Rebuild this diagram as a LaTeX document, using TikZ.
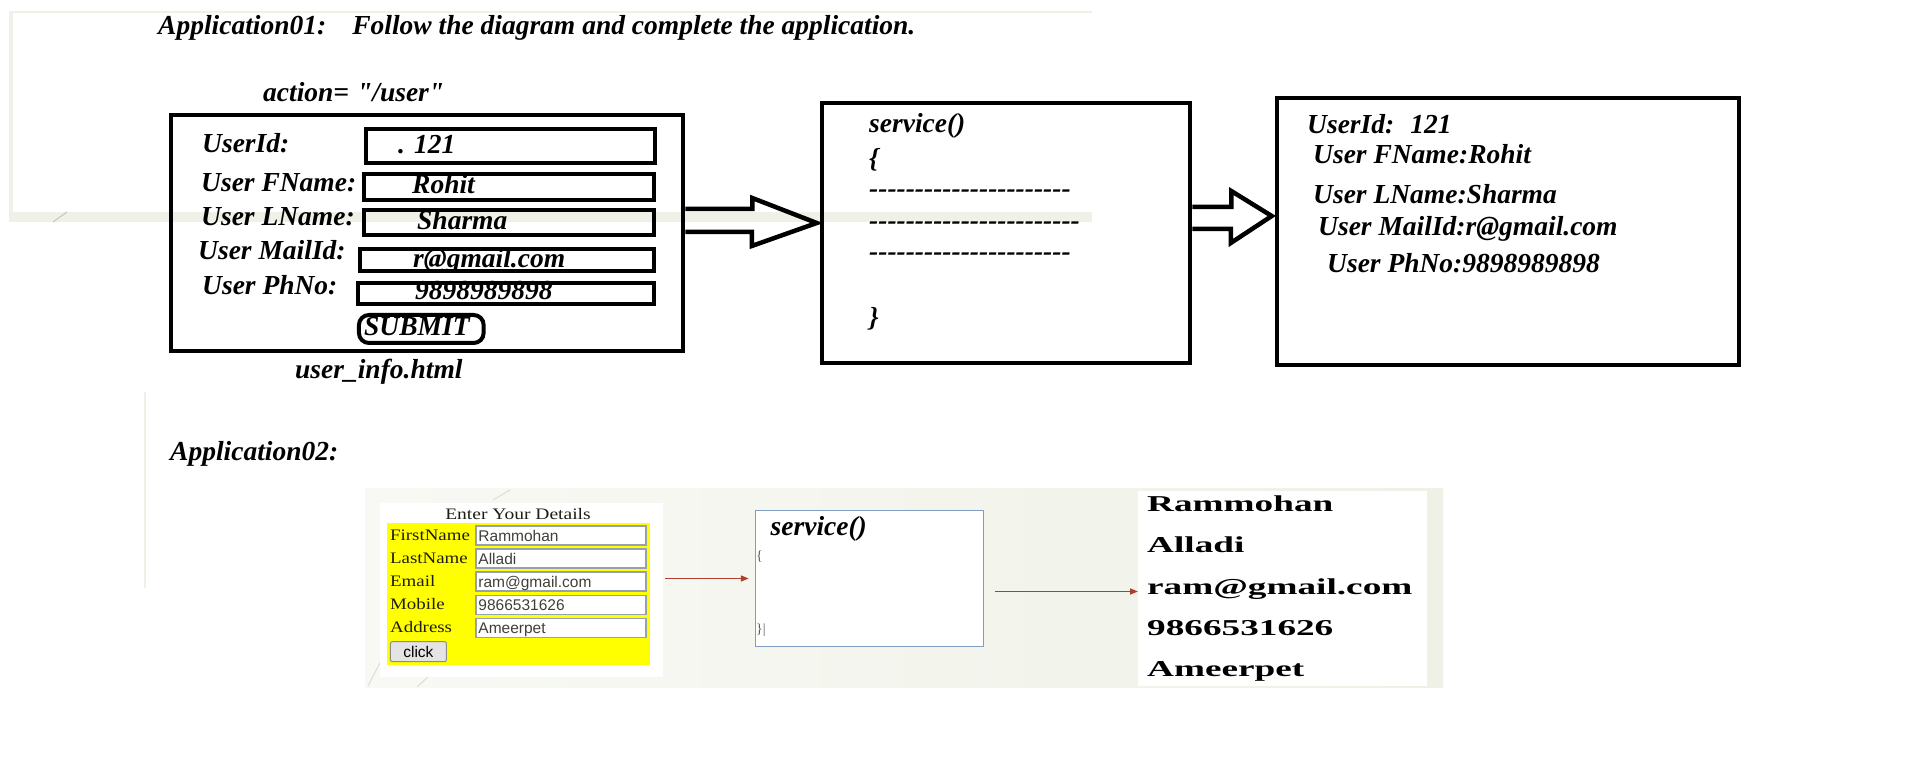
\documentclass[tikz,border=0pt]{standalone}
\usepackage{fontspec}
\usepackage{graphicx}
\usepackage{tikz}
\usetikzlibrary{arrows.meta, positioning, calc}
\newfontfamily\tnr{Liberation Serif}
\newfontfamily\arl{Liberation Sans}
\definecolor{mypanel}{RGB}{239,241,231}
\definecolor{mypanelL}{RGB}{248,249,244}
\definecolor{mymark}{RGB}{196,199,187}
\definecolor{myred}{RGB}{172,64,42}
\definecolor{myblue}{RGB}{127,157,192}
\definecolor{myfield}{RGB}{150,160,175}
\definecolor{mybtn}{RGB}{228,228,228}
\definecolor{mybtnline}{RGB}{140,140,140}
\definecolor{mytext}{RGB}{30,30,20}
\definecolor{myyellow}{RGB}{255,255,0}
\tikzset{
  bi/.style={anchor=base west, inner sep=0pt, font=\tnr\bfseries\itshape\fontsize{27.5}{30}\selectfont},
  frame/.style={draw, line width=4.5pt, inner sep=0pt},
  field/.style={draw, line width=4pt, inner sep=0pt},
  blockarrow/.style={line width=4.5pt, line join=miter, color=black},
  redarrow/.style={-{Triangle[length=8pt,width=6pt]}, line width=1.6pt, color=myred},
  lbl/.style={anchor=base west, inner sep=0pt, font=\tnr\fontsize{16}{18}\selectfont, color=mytext},
  intxt/.style={anchor=base west, inner sep=0pt, font=\arl\fontsize{15.5}{17}\selectfont, color=mytext!85},
  outtxt/.style={anchor=base west, inner sep=0pt, font=\tnr\bfseries\fontsize{22.7}{25}\selectfont}
}

\begin{document}
\begin{tikzpicture}[x=1pt, y=-1pt,
  inbox/.style={draw=myfield, fill=white, line width=1.5pt, minimum width=170, minimum height=19, inner sep=0pt},
  btn/.style={draw=mybtnline, fill=mybtn, rounded corners=2pt, line width=1pt, minimum width=56, minimum height=20, inner sep=0pt, font=\arl\fontsize{15.5}{17}\selectfont},
  pane/.style={fill=white, inner sep=0pt, outer sep=0pt}
]
\useasboundingbox (0,0) rectangle (1907,767);
\fill[white] (0,0) rectangle (1907,767);

%--- BACKGROUND ---
\fill[mypanel] (9,11) rectangle (1092,222);
\fill[white] (13,13) rectangle (1092,212);
\draw[mypanel, line width=2pt] (145,392) -- (145,588);
\draw[mymark, line width=1pt] (53,222) -- (67,212);
\shade[left color=mypanelL, right color=mypanel] (365,488) rectangle (1443,687);
\draw[mymark!60, line width=1pt] (368,686) -- (383,657);
\draw[mymark!60, line width=1pt] (417,687) -- (428,677);
\draw[mymark!60, line width=1pt] (493,500) -- (510,490);

%--- APPLICATION 01 ---
\node[bi] (title) at (158,35) {Application01:\hspace{26pt}Follow the diagram and complete the application.};
\node[bi] (action) at (263,102) {action=\hspace{8pt}"/user"};

% form page
\node[frame, minimum width=512, minimum height=236] (formbox) at (427,233) {};
\node[bi] (lid) at (202,153) {UserId:};
\node[bi] (lfn) at (201,192) {User FName:};
\node[bi] (lln) at (201,226) {User LName:};
\node[bi] (lmail) at (198,260) {User MailId:};
\node[bi] (lph) at (202,295) {User PhNo:};
\node[bi] (vid) at (398,154) {. 121};
\node[bi] (vfn) at (412,194) {Rohit};
\node[bi] (vln) at (417,230) {Sharma};
\node[bi] (vmail) at (413,268) {r@gmail.com};
\node[bi] (vph) at (415,300) {9898989898};
\node[field, minimum width=289, minimum height=34] (fid) at (510,146) {};
\node[field, minimum width=289.5, minimum height=26] (ffn) at (509.2,186.7) {};
\node[field, minimum width=289.5, minimum height=24.7] (fln) at (509.2,222.3) {};
\node[field, minimum width=294, minimum height=22] (fmail) at (507,259.7) {};
\node[field, minimum width=296, minimum height=21.3] (fph) at (506,293.3) {};
\node[field, rounded corners=10pt, minimum width=124.7, minimum height=28] (submit) at (421.3,329) {};
\node[bi] (vsubmit) at (364,336) {SUBMIT};
\node[bi] (page) at (295,378) {user\_info.html};

% servlet
\node[frame, minimum width=368, minimum height=260] (svcbox) at (1006,233) {};
\node[bi] (svc) at (869,133) {service()};
\node[bi] (sopen) at (869,168) {\{};
\node[bi] (sd1) at (869,198) {----------------------};
\node[bi] (sd2) at (869,230) {-----------------------};
\node[bi] (sd3) at (869,261) {----------------------};
\node[bi] (sclose) at (869,327) {\}};

% response
\node[frame, minimum width=462, minimum height=267] (outbox) at (1508,231.5) {};
\node[bi] (oid) at (1307,134) {UserId:\hspace{16pt}121};
\node[bi] (ofn) at (1313,164) {User FName:Rohit};
\node[bi] (oln) at (1313,204) {User LName:Sharma};
\node[bi] (omail) at (1318,236) {User MailId:r@gmail.com};
\node[bi] (oph) at (1327,273) {User PhNo:9898989898};

% block arrows
\draw[blockarrow] ([yshift=24pt]formbox.east) -- ++(67,0) -- ++(0,-11)
  -- ([xshift=-3pt,yshift=10pt]svcbox.west) -- ++(-65,23) -- ++(0,-14) -- ([yshift=1pt]formbox.east);
\draw[blockarrow] ([yshift=26pt]svcbox.east) -- ++(39,0) -- ++(0,-16)
  -- ([xshift=-3pt,yshift=15.5pt]outbox.west) -- ++(-41,27) -- ++(0,-14) -- ([yshift=4pt]svcbox.east);

%--- APPLICATION 02 ---
\node[bi] (app2) at (170,460) {Application02:};

% html form
\node[pane, minimum width=283, minimum height=174] (formpanel) at (521.5,590) {};
\node[pane, fill=myyellow, minimum width=263.3, minimum height=142] (formbg) at (518.4,594) {};
\node[lbl, anchor=base] (ftitle) at (518,519) {\scalebox{1.22}[1]{Enter Your Details}};
\foreach \i/\lab/\val in {0/FirstName/Rammohan, 1/LastName/Alladi, 2/Email/ram@gmail.com, 3/Mobile/9866531626, 4/Address/Ameerpet} {
  \pgfmathsetmacro\ry{535.5+23.1*\i}
  \node[lbl] (lab\i) at (390,\ry+4.5) {\scalebox{1.18}[1]{\lab}};
  \node[inbox] (in\i) at (561,\ry) {};
  \node[intxt] (val\i) at ([xshift=3pt,yshift=-5.5pt]in\i.west) {\val};
}
\node[btn] (click) at (418.4,651.7) {click};

% servlet
\node[draw=myblue, fill=white, line width=1.5pt, minimum width=228, minimum height=136, inner sep=0pt] (svctwo) at (869.5,578.5) {};
\node[bi] (svc2) at (770.5,535) {service()};
\node[lbl, font=\tnr\fontsize{14}{16}\selectfont, color=black!65] (sopen2) at (756,560) {\{};
\node[lbl, font=\tnr\fontsize{14}{16}\selectfont, color=black!65] (sclose2) at (756,633) {\}|};

% output
\node[pane, minimum width=289, minimum height=195] (outpanel) at (1282.5,588.5) {};
\foreach \i/\txt in {0/Rammohan, 1/Alladi, 2/ram@gmail.com, 3/9866531626, 4/Ameerpet} {
  \node[outtxt] (out\i) at (1147,511.7+41.25*\i) {\scalebox{1.64}[1]{\txt}};
}

\draw[redarrow] ($(formpanel.east |- svctwo.west)+(2,0)$) -- ($(svctwo.west)+(-6,0)$);
\draw[redarrow] ($(svctwo.east |- outpanel.west)+(11,3)$) -- ($(outpanel.west)+(0,3)$);
\end{tikzpicture}
\end{document}
